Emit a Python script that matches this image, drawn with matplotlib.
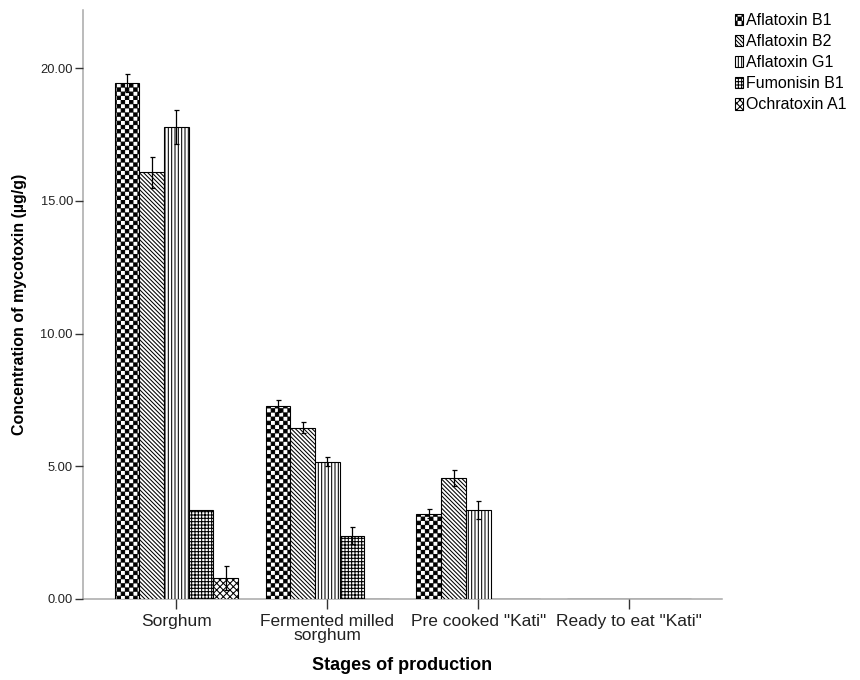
import warnings
import numpy as np
import matplotlib
matplotlib.use("Agg")
import matplotlib.pyplot as plt
from matplotlib import hatch as mhatch
from matplotlib.path import Path

warnings.filterwarnings("ignore")

stages = ["Sorghum", "Fermented milled\nsorghum", 'Pre cooked "Kati"', 'Ready to eat "Kati"']
toxins = ["Aflatoxin B1", "Aflatoxin B2", "Aflatoxin G1", "Fumonisin B1", "Ochratoxin A1"]

# mean concentration per toxin, one value per stage
afb1 = [19.43, 7.27, 3.21, 0.0]
afb2 = [16.08, 6.45, 4.55, 0.0]
afg1 = [17.78, 5.17, 3.33, 0.0]
fb1 = [3.33, 2.37, 0.0, 0.0]
ota1 = [0.78, 0.0, 0.0, 0.0]

# error bar half widths
afb1_err = [0.34, 0.23, 0.16, 0.0]
afb2_err = [0.58, 0.22, 0.29, 0.0]
afg1_err = [0.65, 0.16, 0.34, 0.0]
fb1_err = [0.0, 0.32, 0.0, 0.0]
ota1_err = [0.47, 0.0, 0.0, 0.0]


# checkerboard hatch, SPSS style (not built into matplotlib)
class CheckerHatch(mhatch.HatchPatternBase):
    def __init__(self, hatch, density):
        self.num_cells = hatch.count("c") * density
        n = self.num_cells
        self.num_vertices = (n * n // 2) * 5 if n else 0

    def set_vertices_and_codes(self, vertices, codes):
        n = self.num_cells
        size = 1.0 / n
        shrink = 0.004
        k = 0
        for i in range(n):
            for j in range(n):
                if (i + j) % 2:
                    continue
                x0, y0 = i * size + shrink, j * size + shrink
                x1, y1 = (i + 1) * size - shrink, (j + 1) * size - shrink
                vertices[k:k + 5] = [(x0, y0), (x1, y0), (x1, y1), (x0, y1), (x0, y0)]
                codes[k:k + 5] = [Path.MOVETO, Path.LINETO, Path.LINETO, Path.LINETO, Path.CLOSEPOLY]
                k += 5


mhatch._hatch_types.append(CheckerHatch)

plt.rcParams["font.family"] = ["Liberation Sans", "DejaVu Sans"]
plt.rcParams["hatch.linewidth"] = 0.75

values = [afb1, afb2, afg1, fb1, ota1]
errors = [afb1_err, afb2_err, afg1_err, fb1_err, ota1_err]
hatches = ["cccc", "\\" * 8, "|" * 5, "+" * 5, "x" * 5]

fig = plt.figure(figsize=(8.6, 6.8), dpi=100)
ax = fig.add_axes([82.7 / 860, 81.3 / 680, (722 - 82.7) / 860, (598.7 - 10) / 680])

x = np.arange(len(stages))
width = 0.1636

for i, (vals, errs, h, name) in enumerate(zip(values, errors, hatches, toxins)):
    pos = x + (i - 2) * width
    ax.bar(pos, vals, width, color="white", edgecolor="black", linewidth=0.8,
           hatch=h, label=name, zorder=3)
    errs = np.array(errs)
    vals = np.array(vals)
    keep = errs > 0
    ax.errorbar(pos[keep], vals[keep], yerr=errs[keep], fmt="none", ecolor="black",
                elinewidth=0.9, capsize=1.8, capthick=0.9, zorder=4)

ax.set_xlim(-0.62, 3.615)
ax.set_ylim(0, 22.2)
ax.set_yticks([0, 5, 10, 15, 20])
ax.set_yticklabels([f"{v:.2f}" for v in [0, 5, 10, 15, 20]])
ax.set_xticks(x)
ax.set_xticklabels(stages, fontsize=12.5, linespacing=0.95)

for side in ["top", "right"]:
    ax.spines[side].set_visible(False)
for side in ["left", "bottom"]:
    ax.spines[side].set_color("#a8a8a8")
    ax.spines[side].set_linewidth(1.1)
    ax.spines[side].set_zorder(1)

ax.tick_params(axis="y", length=6, width=1, color="#333333", labelsize=9.3, pad=1,
               labelcolor="#222222")
ax.tick_params(axis="x", length=7, width=1, color="#333333", pad=4, labelcolor="#222222")

ax.set_ylabel("Concentration of mycotoxin (µg/g)", fontsize=11.5, fontweight="bold",
              labelpad=10)
ax.set_xlabel("Stages of production", fontsize=13, fontweight="bold", labelpad=10)

fig.legend(loc="upper left", bbox_to_anchor=(735 / 860, 1 - 13 / 680), frameon=False,
           fontsize=11.5, handlelength=0.5, handleheight=0.75, handletextpad=0.2,
           labelspacing=0.38, borderpad=0, borderaxespad=0)

fig.savefig("out.png", dpi=100)
